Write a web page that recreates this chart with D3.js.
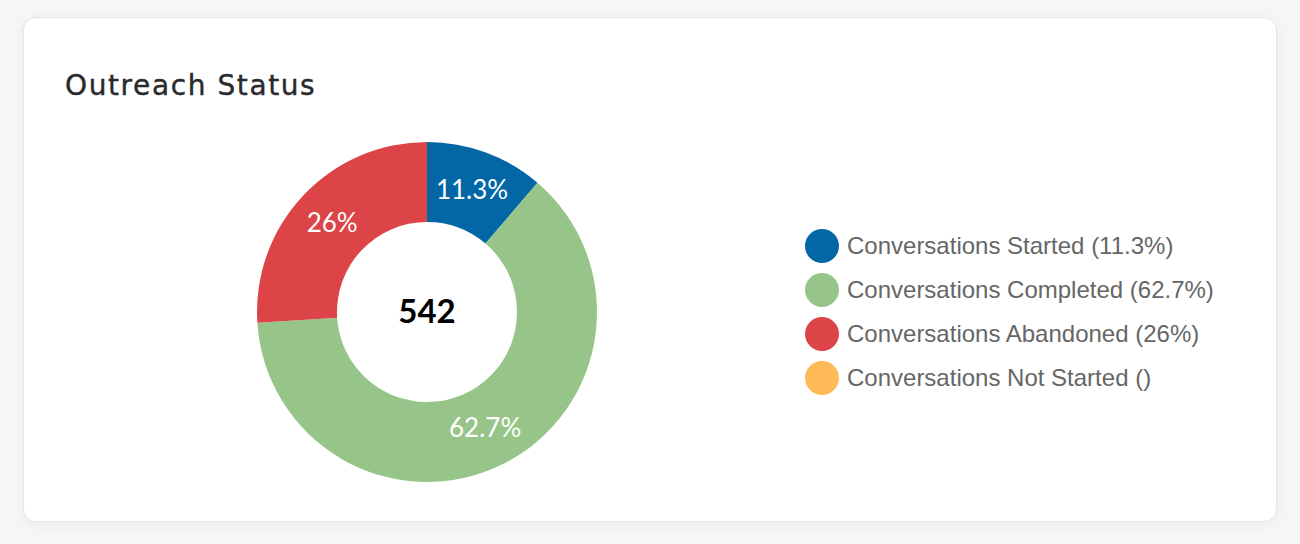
<!DOCTYPE html>
<html>
<head>
<meta charset="utf-8">
<script src="https://cdn.jsdelivr.net/npm/d3@7"></script>
<style>
  html, body { margin: 0; padding: 0; background: #f6f6f7; }
  body { width: 1300px; height: 544px; position: relative; overflow: hidden; }
  .card {
    position: absolute; left: 23px; top: 17px; width: 1252px; height: 503px;
    background: #fff; border: 1px solid #e2e5ea; border-radius: 13px;
    box-shadow: 0 2px 14px rgba(0,0,0,0.05);
  }
  #chart { position: absolute; left: 0; top: 0; }
</style>
</head>
<body>
<div class="card"></div>
<svg id="chart" width="1300" height="544"></svg>
<script>
const title = 'Outreach Status';
const categories = ['Conversations Started', 'Conversations Completed', 'Conversations Abandoned', 'Conversations Not Started'];
const counts = [61, 340, 141, 0];
const pctLabels = ['11.3%', '62.7%', '26%', ''];
const colors = ['#0367a6', '#97c589', '#dd4447', '#fdba56'];

const total = d3.sum(counts);
const svg = d3.select('#chart');

svg.append('text')
  .attr('x', 65).attr('y', 95)
  .attr('font-family', '"DejaVu Sans", sans-serif')
  .attr('font-size', 28)
  .attr('letter-spacing', 1.6)
  .attr('fill', '#2a2a2c')
  .attr('stroke', '#2a2a2c')
  .attr('stroke-width', 0.4)
  .text(title);

// donut
const cx = 427, cy = 312, outerR = 170, innerR = 90;
const pie = d3.pie().sort(null).value(d => d.v);
const arc = d3.arc().innerRadius(innerR).outerRadius(outerR);
const data = categories.map((c, i) => ({ c, v: counts[i], color: colors[i], label: pctLabels[i] }));
const arcs = pie(data);

const g = svg.append('g').attr('transform', `translate(${cx},${cy})`);
g.selectAll('path.slice')
  .data(arcs.filter(d => d.data.v > 0))
  .enter().append('path')
  .attr('class', 'slice')
  .attr('d', arc)
  .attr('fill', d => d.data.color);

g.selectAll('text.pct')
  .data(arcs.filter(d => d.data.v > 0))
  .enter().append('text')
  .attr('class', 'pct')
  .attr('transform', d => `translate(${arc.centroid(d)})`)
  .attr('text-anchor', 'middle')
  .attr('dy', '0.35em')
  .attr('font-family', 'Lato, sans-serif')
  .attr('font-size', 26)
  .attr('fill', '#fff')
  .text(d => d.data.label);

g.append('text')
  .attr('text-anchor', 'middle')
  .attr('dy', '0.34em')
  .attr('font-family', 'Lato, sans-serif')
  .attr('font-weight', 700)
  .attr('font-size', 33)
  .attr('fill', '#000')
  .text(total);

// legend
const legend = svg.append('g').attr('transform', 'translate(822,246)');
const rows = legend.selectAll('g.row')
  .data(data)
  .enter().append('g')
  .attr('class', 'row')
  .attr('transform', (d, i) => `translate(0,${i * 44})`);
rows.append('circle').attr('r', 17).attr('fill', d => d.color);
rows.append('text')
  .attr('x', 25).attr('dy', '0.35em')
  .attr('font-family', '"Liberation Sans", Arial, sans-serif')
  .attr('font-size', 24)
  .attr('fill', '#666')
  .text((d, i) => `${d.c} (${pctLabels[i]})`);
</script>
</body>
</html>
